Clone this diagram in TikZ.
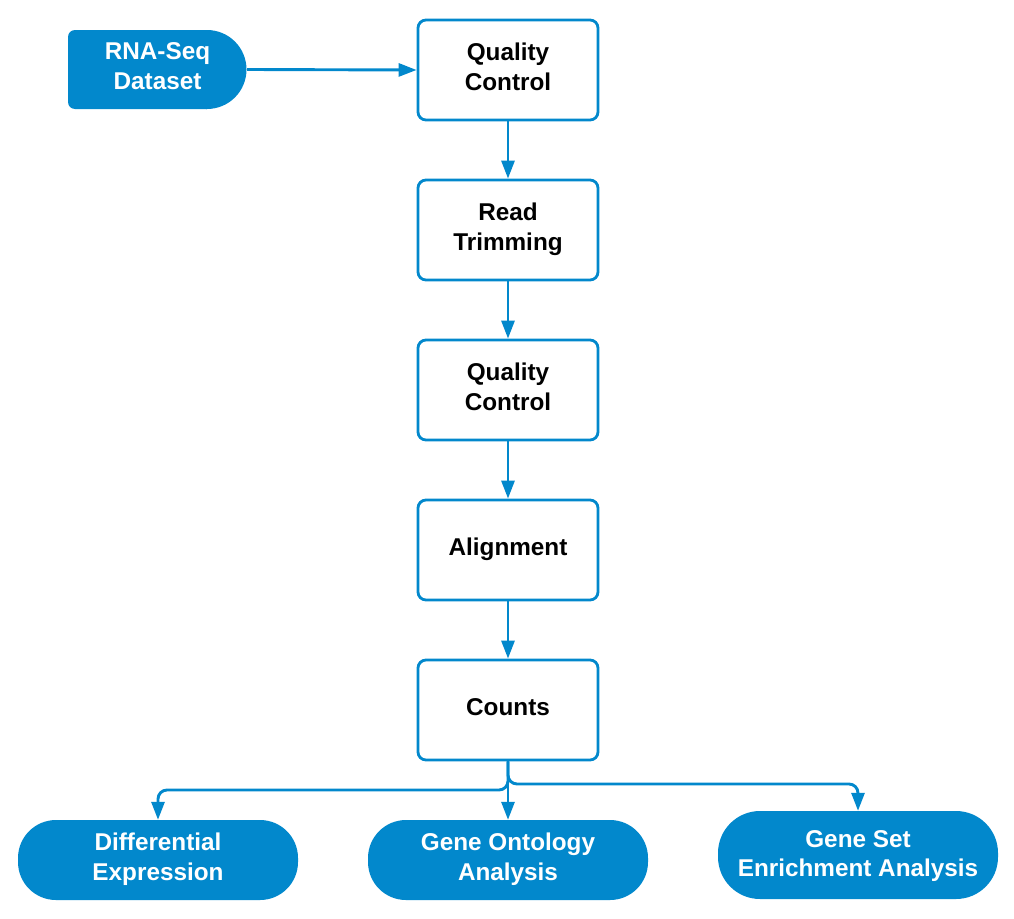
\documentclass[tikz,border=0pt]{standalone}
\usepackage{fontspec}
\setmainfont{Liberation Sans}
\usetikzlibrary{arrows.meta}
\definecolor{flowblue}{HTML}{0288CC}
\tikzset{
  boxfont/.style={font=\fontsize{24.3}{29.5}\selectfont\bfseries, text depth=6.5pt},
  procbox/.style={draw=flowblue, line width=2.8pt, fill=white, rounded corners=8pt,
    minimum width=180pt, minimum height=100pt, inner sep=0pt,
    align=center, boxfont, text=black},
  termbox/.style={fill=flowblue, draw=none, rounded corners=38pt,
    minimum width=280pt, minimum height=80pt, inner sep=0pt,
    align=center, boxfont, text=white},
  conn/.style={draw=flowblue, line width=2.9pt, -{Triangle[length=18pt,width=13pt]}},
}
\begin{document}
\begin{tikzpicture}[x=1pt,y=-1pt]
\useasboundingbox (0,0) rectangle (1014,918);
% data source shape
\fill[flowblue, rounded corners=7pt] (207,109) -- (68,109) -- (68,30) -- (207,30);
\fill[flowblue] (206,30) -- (207,30) arc[start angle=-90, end angle=90, radius=39.5] -- (206,109) -- cycle;
\node[draw=none, minimum width=179pt, minimum height=79pt, inner sep=0pt, align=center,
  boxfont, text=white] (ds) at (157.5,69.5) {RNA-Seq\\Dataset};

\node[procbox] (qc1) at (508,70) {Quality\\Control};
\node[procbox] (rt) at (508,230) {Read\\Trimming};
\node[procbox] (qc2) at (508,390) {Quality\\Control};
\node[procbox] (al) at (508,550) {Alignment};
\node[procbox] (cn) at (508,710) {Counts};

\node[termbox] (de) at (158,860) {Differential\\Expression};
\node[termbox] (go) at (508,860) {Gene Ontology\\Analysis};
\node[termbox, minimum height=88pt, rounded corners=42pt, text depth=2.5pt] (gs) at (858,855) {Gene Set\\Enrichment Analysis};

\draw[conn] (ds.east) -- (qc1.west);
\draw[conn] (qc1.south) -- (rt.north);
\draw[conn] (rt.south) -- (qc2.north);
\draw[conn] (qc2.south) -- (al.north);
\draw[conn] (al.south) -- (cn.north);
\draw[conn] (cn.south) -- (go.north);
\draw[conn, rounded corners=9pt] (cn.south) |- (158,790) -- (de.north);
\draw[conn, rounded corners=9pt] (cn.south) |- (858,784) -- (gs.north);
\end{tikzpicture}
\end{document}
